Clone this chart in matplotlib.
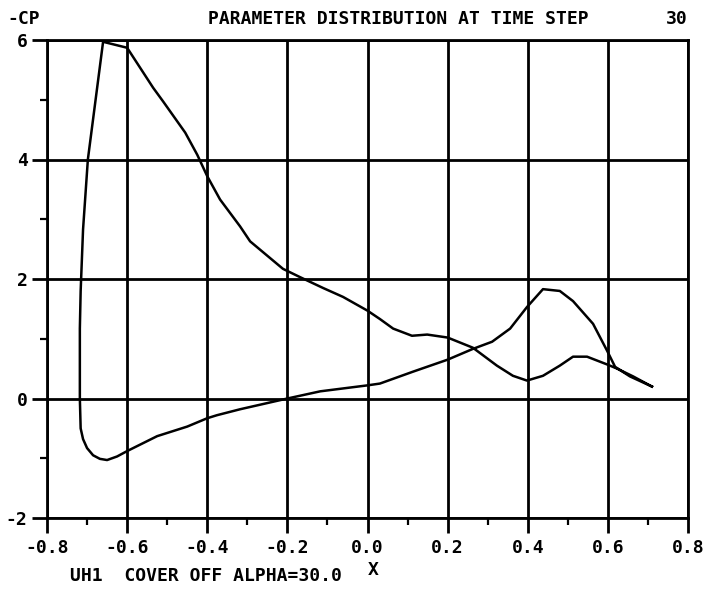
import numpy as np
import matplotlib
matplotlib.use("Agg")
import matplotlib.pyplot as plt

# Data: one closed path, suction side from TE to LE,
# then around the nose and back along the pressure side to TE
xSuct = [0.71, 0.663, 0.623, 0.598, 0.548, 0.513, 0.48, 0.438, 0.398, 0.363,
         0.323, 0.263, 0.20, 0.149, 0.111, 0.064, 0.031, 0.0, -0.061, -0.111,
         -0.168, -0.211, -0.293, -0.318, -0.368, -0.40, -0.425, -0.455, -0.51,
         -0.535, -0.60, -0.66]
cpSuct = [0.20, 0.37, 0.50, 0.57, 0.70, 0.70, 0.55, 0.38, 0.30, 0.38,
          0.55, 0.85, 1.02, 1.07, 1.05, 1.17, 1.33, 1.47, 1.70, 1.85,
          2.03, 2.17, 2.63, 2.88, 3.33, 3.72, 4.08, 4.45, 4.97,
          5.20, 5.87, 5.97]

xPres = [-0.698, -0.71, -0.716, -0.718, -0.718, -0.716, -0.71, -0.70, -0.685,
         -0.668, -0.65, -0.625, -0.60, -0.525, -0.45, -0.40, -0.376, -0.318,
         -0.20, -0.118, 0.0, 0.031, 0.114, 0.20, 0.263, 0.311, 0.356, 0.398,
         0.438, 0.48, 0.513, 0.563, 0.598, 0.618, 0.655, 0.71]
cpPres = [4.0, 2.83, 1.8, 1.17, 0.0, -0.5, -0.68, -0.83, -0.95,
          -1.01, -1.03, -0.97, -0.88, -0.63, -0.47, -0.33, -0.28, -0.18,
          0.0, 0.12, 0.22, 0.25, 0.45, 0.65, 0.83, 0.95, 1.17, 1.53,
          1.83, 1.80, 1.63, 1.25, 0.80, 0.53, 0.37, 0.20]

xTicks  = [-0.8, -0.6, -0.4, -0.2, 0.0, 0.2, 0.4, 0.6, 0.8]
xLabels = ["-0.8", "-0.6", "-0.4", "-0.2", "0.0", "0.2", "0.4", "0.6", "0.8"]
yTicks  = [-2, 0, 2, 4, 6]
yLabels = ["-2", "0", "2", "4", "6"]

titleText  = "PARAMETER DISTRIBUTION AT TIME STEP"
stepText   = "30"
yAxisText  = "-CP"
xAxisText  = "X"
caseText   = "UH1  COVER OFF ALPHA=30.0"

#------------------------------------------------------------------------------#

W, H = 707, 589
font = dict(family="DejaVu Sans Mono", weight="bold", size=13)

fig = plt.figure(figsize=(W/100, H/100), dpi=100)
ax  = fig.add_axes([47/W, 1 - 518/H, (688 - 47)/W, (518 - 40)/H])

xs = np.array(xSuct + xPres)
ys = np.array(cpSuct + cpPres)
ax.plot(xs, ys, color="black", lw=1.8, solid_joinstyle="round")

ax.set_xlim(-0.8, 0.8)
ax.set_ylim(-2, 6)
ax.set_xticks(xTicks)
ax.set_xticklabels(xLabels, **font)
ax.set_yticks(yTicks)
ax.set_yticklabels(yLabels, **font)
ax.set_xticks(np.arange(-0.7, 0.8, 0.2), minor=True)
ax.set_yticks([-1, 1, 3, 5], minor=True)

ax.tick_params(which="major", direction="out", length=11, width=2.0,
               color="black", pad=4)
ax.tick_params(which="minor", direction="out", length=5, width=1.6,
               color="black")
ax.tick_params(axis="y", which="major", pad=3)

ax.grid(True, which="major", color="black", lw=2.0)
for sp in ax.spines.values():
    sp.set_linewidth(2.0)

# Header and footer texts, placed in pixels
def put(px, py, s, ha="left"):
    fig.text(px/W, 1 - py/H, s, ha=ha, va="center", **font)

put(7, 19, yAxisText)
put(208, 19, titleText)
put(688, 19, stepText, ha="right")
put(70, 576, caseText)
put(373, 570, xAxisText, ha="center")

fig.savefig("out.png", dpi=100)
